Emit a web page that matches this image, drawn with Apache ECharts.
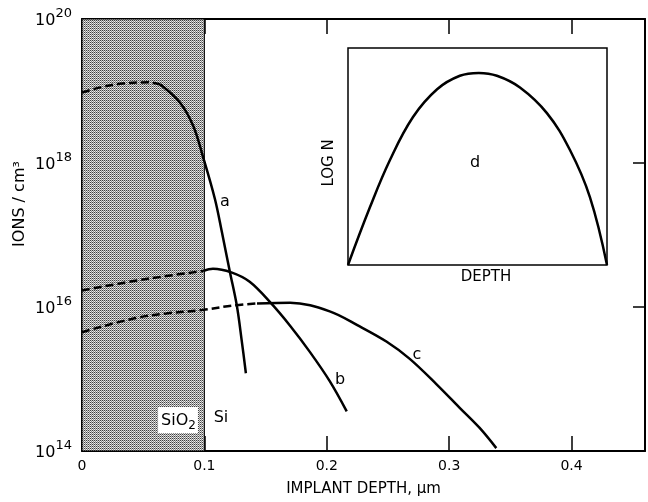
<!DOCTYPE html>
<html>
<head>
<meta charset="utf-8">
<script src="https://cdn.jsdelivr.net/npm/echarts@6/dist/echarts.min.js"></script>
<style>
  html, body { margin: 0; padding: 0; background: #fff; }
  #box1 { width: 648px; height: 502px; }
</style>
</head>
<body>
<div id="box1"></div>
<script>
// depth in um, concentration as log10(ions/cm3)
var aDashed = [[0, 18.98], [0.015, 19.05], [0.031, 19.10], [0.055, 19.12], [0.064, 19.09]];
var aSolid = [[0.064, 19.09], [0.080, 18.84], [0.091, 18.51], [0.0988, 18.09], [0.1086, 17.50],
    [0.1143, 17.04], [0.1208, 16.49], [0.1265, 16.02], [0.1306, 15.52], [0.1339, 15.08]];
var bDashed = [[0, 16.23], [0.042, 16.36], [0.069, 16.43], [0.099, 16.50]];
var bSolid = [[0.099, 16.50], [0.107, 16.53], [0.122, 16.48], [0.137, 16.35], [0.1535, 16.07],
    [0.170, 15.74], [0.186, 15.38], [0.2024, 14.97], [0.2163, 14.55]];
var cDashed = [[0, 15.65], [0.042, 15.84], [0.069, 15.91], [0.099, 15.96], [0.123, 16.02], [0.143, 16.05]];
var cSolid = [[0.143, 16.05], [0.170, 16.06], [0.2024, 15.94], [0.2269, 15.73], [0.2487, 15.52],
    [0.2678, 15.28], [0.2895, 14.93], [0.3086, 14.60], [0.3249, 14.32], [0.3385, 14.04]];
// inset: relative depth / relative log N
var dCurve = [[0, 0], [0.085, 0.267], [0.162, 0.484], [0.251, 0.682], [0.344, 0.810], [0.432, 0.872],
    [0.505, 0.885], [0.575, 0.872], [0.664, 0.818], [0.768, 0.700], [0.857, 0.530], [0.934, 0.313], [1, 0]];
var oxideRange = [0, 0.1];
var yTicks = [14, 16, 18, 20];

window.onload = function () {
    var myChart = echarts.init(document.getElementById("box1"));

    // fine crosshatch for the oxide layer
    var pat = document.createElement('canvas');
    pat.width = 2; pat.height = 2;
    var ctx = pat.getContext('2d');
    ctx.fillStyle = '#f2f2f2'; ctx.fillRect(0, 0, 2, 2);
    ctx.fillStyle = '#404040'; ctx.fillRect(0, 0, 1, 1);
    ctx.fillStyle = '#8a8a8a'; ctx.fillRect(1, 1, 1, 1);
    ctx.fillStyle = '#c8c8c8'; ctx.fillRect(1, 0, 1, 1);

    var font = 'DejaVu Sans';
    var lineW = 2.5;
    var solid = { color: '#000', width: lineW, type: 'solid' };
    var dashed = { color: '#000', width: lineW, type: [8, 4] };
    var frame = { show: true, onZero: false, lineStyle: { color: '#000', width: 2 } };

    function curve(data, style) {
        return {
            type: 'line', xAxisIndex: 0, yAxisIndex: 0, data: data,
            showSymbol: false, smooth: 0.35, lineStyle: style, z: 5, silent: true
        };
    }

    var series = [
        curve(aDashed, dashed), curve(aSolid, solid),
        curve(bDashed, dashed), curve(bSolid, solid),
        curve(cDashed, dashed), curve(cSolid, solid),
        {
            type: 'line', xAxisIndex: 2, yAxisIndex: 2, data: dCurve,
            showSymbol: false, smooth: 0.4, lineStyle: solid, silent: true
        }
    ];
    series[0].markArea = {
        silent: true,
        itemStyle: { color: { image: pat, repeat: 'repeat' }, borderColor: '#000', borderWidth: 1 },
        data: [[{ xAxis: oxideRange[0] }, { xAxis: oxideRange[1] }]]
    };

    var tick = function (len) {
        return { show: true, inside: true, length: len, lineStyle: { color: '#000', width: 1.5 } };
    };

    var option = {
        animation: false,
        grid: [
            { left: 82, top: 19, width: 563, height: 434 },
            { left: 348, top: 48, width: 259, height: 217, show: true, borderColor: '#000', borderWidth: 1.5,
              backgroundColor: '#fff', z: 3 }
        ],
        xAxis: [
            {
                gridIndex: 0, type: 'value', min: 0, max: 0.46, interval: 0.1, position: 'bottom',
                name: 'IMPLANT DEPTH, \u03bcm', nameLocation: 'middle', nameGap: 31,
                nameTextStyle: { fontFamily: font, fontSize: 15, color: '#000' },
                axisLine: frame, splitLine: { show: false }, axisTick: tick(15),
                axisLabel: {
                    margin: 8, fontFamily: font, fontSize: 14, color: '#000',
                    formatter: function (v) {
                        var r = Math.round(v * 10);
                        if (Math.abs(v * 10 - r) > 1e-6) return '';
                        return r === 0 ? '0' : (r / 10).toFixed(1);
                    }
                }
            },
            {
                gridIndex: 0, type: 'value', min: 0, max: 0.46, interval: 0.1, position: 'top',
                axisLine: frame, splitLine: { show: false }, axisLabel: { show: false }, axisTick: tick(15)
            },
            {
                gridIndex: 1, type: 'value', min: 0, max: 1,
                axisLine: { show: false }, splitLine: { show: false }, axisLabel: { show: false },
                axisTick: { show: false }
            }
        ],
        yAxis: [
            {
                gridIndex: 0, type: 'value', min: 14, max: 20, interval: 2,
                axisLine: frame, splitLine: { show: false }, axisTick: tick(15),
                axisLabel: {
                    margin: 10, color: '#000', padding: [4, 0, 0, 0],
                    formatter: function (v) {
                        return yTicks.indexOf(v) >= 0 ? '{b|10}{s|' + v + '}' : '';
                    },
                    rich: {
                        b: { fontFamily: font, fontSize: 16, color: '#000' },
                        s: { fontFamily: font, fontSize: 13, color: '#000', padding: [0, 0, 14, 0] }
                    }
                }
            },
            {
                gridIndex: 0, type: 'value', min: 14, max: 20, interval: 2, position: 'right',
                axisLine: frame, splitLine: { show: false }, axisLabel: { show: false }, axisTick: tick(12)
            },
            {
                gridIndex: 1, type: 'value', min: 0, max: 1,
                axisLine: { show: false }, splitLine: { show: false }, axisLabel: { show: false },
                axisTick: { show: false }
            }
        ],
        graphic: [
            { type: 'text', x: 20, y: 204, rotation: Math.PI / 2, z: 10,
              style: { text: 'IONS / cm\u00b3', fontFamily: font, fontSize: 16, fill: '#000', align: 'center', verticalAlign: 'middle' } },
            { type: 'text', x: 178, y: 420, z: 10,
              style: {
                  text: '{m|SiO}{u|2}', align: 'center', verticalAlign: 'middle',
                  backgroundColor: '#fff', padding: [3, 2, 1, 3],
                  rich: {
                      m: { fontFamily: font, fontSize: 16, fill: '#000' },
                      u: { fontFamily: font, fontSize: 12, fill: '#000', padding: [10, 0, 0, 0] }
                  }
              } },
            { type: 'text', x: 221, y: 418, z: 10,
              style: { text: 'Si', fontFamily: font, fontSize: 16, fill: '#000', align: 'center', verticalAlign: 'middle' } },
            { type: 'text', x: 225, y: 202, z: 10,
              style: { text: 'a', fontFamily: font, fontSize: 16, fill: '#000', align: 'center', verticalAlign: 'middle' } },
            { type: 'text', x: 340, y: 380, z: 10,
              style: { text: 'b', fontFamily: font, fontSize: 16, fill: '#000', align: 'center', verticalAlign: 'middle' } },
            { type: 'text', x: 417, y: 355, z: 10,
              style: { text: 'c', fontFamily: font, fontSize: 16, fill: '#000', align: 'center', verticalAlign: 'middle' } },
            { type: 'text', x: 475, y: 163, z: 10,
              style: { text: 'd', fontFamily: font, fontSize: 16, fill: '#000', align: 'center', verticalAlign: 'middle' } },
            { type: 'text', x: 329, y: 163, rotation: Math.PI / 2, z: 10,
              style: { text: 'LOG N', fontFamily: font, fontSize: 15, fill: '#000', align: 'center', verticalAlign: 'middle' } },
            { type: 'text', x: 486, y: 277, z: 10,
              style: { text: 'DEPTH', fontFamily: font, fontSize: 15, fill: '#000', align: 'center', verticalAlign: 'middle' } }
        ],
        series: series
    };
    myChart.setOption(option);
    window.addEventListener('resize', function () {
        myChart.resize();
    });
};
</script>
</body>
</html>
